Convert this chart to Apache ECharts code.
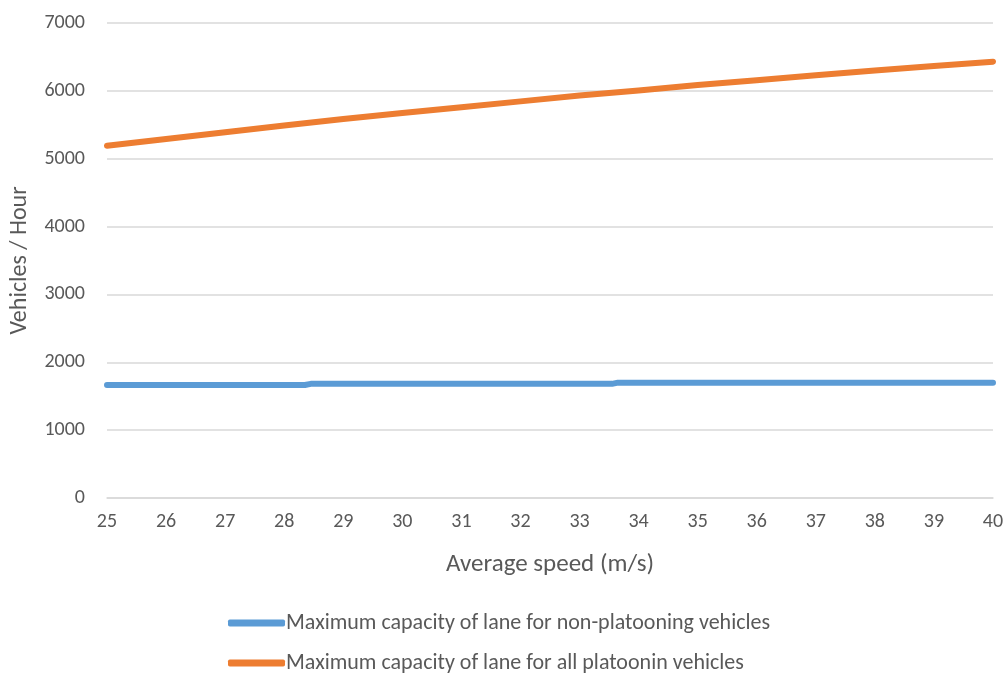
<!DOCTYPE html>
<html>
<head>
<meta charset="utf-8">
<script src="https://cdn.jsdelivr.net/npm/echarts@6/dist/echarts.min.js"></script>
<style>
html,body{margin:0;padding:0;background:#fff;}
#chart{width:1008px;height:673px;}
</style>
</head>
<body>
<div id="chart"></div>
<script>
// Speeds (m/s) for the platooning series
const speeds = [25, 26, 27, 28, 29, 30, 31, 32, 33, 34, 35, 36, 37, 38, 39, 40];
// Maximum capacity of lane for all platooning vehicles (veh/h)
const platoonValues = [5190, 5290, 5390, 5490, 5585, 5675, 5760, 5845, 5930, 6005, 6085, 6155, 6230, 6300, 6365, 6430];
// Non-platooning series: step breakpoints (speed, value)
const nonPlatoonSpeeds = [25, 28.35, 28.45, 33.55, 33.65, 40];
const nonPlatoonValues = [1665, 1665, 1682, 1682, 1700, 1700];
const xTicks = {min: 25, max: 40, interval: 1};
const yTicks = {min: 0, max: 7000, interval: 1000};
const seriesNames = ['Maximum capacity of lane for non-platooning vehicles', 'Maximum capacity of lane for all platoonin vehicles'];
const xTitle = 'Average speed (m/s)';
const yTitle = 'Vehicles / Hour';

const FONT = 'Carlito, Lato, sans-serif';
const TXT = '#595959';
const chart = echarts.init(document.getElementById('chart'), null, {renderer: 'canvas'});
chart.setOption({
  backgroundColor: '#fff',
  animation: false,
  grid: {left: 107, right: 15, top: 23, bottom: 175, containLabel: false, outerBoundsMode: 'none'},
  xAxis: {
    type: 'value', min: xTicks.min, max: xTicks.max, interval: xTicks.interval,
    name: xTitle, nameLocation: 'middle', nameGap: 54,
    nameTextStyle: {fontFamily: FONT, fontSize: 25, color: TXT},
    axisLine: {show: true, lineStyle: {color: '#D9D9D9', width: 1.5}},
    axisTick: {show: false},
    splitLine: {show: false},
    axisLabel: {fontFamily: FONT, fontSize: 20, color: TXT, margin: 14}
  },
  yAxis: {
    type: 'value', min: yTicks.min, max: yTicks.max, interval: yTicks.interval,
    name: yTitle, nameLocation: 'middle', nameGap: 75, nameRotate: 90,
    nameTextStyle: {fontFamily: FONT, fontSize: 24, color: TXT},
    axisLine: {show: false}, axisTick: {show: false},
    splitLine: {lineStyle: {color: '#D9D9D9', width: 1.5}},
    axisLabel: {fontFamily: FONT, fontSize: 20, color: TXT, margin: 22, formatter: v => String(v)}
  },
  legend: {
    orient: 'vertical', left: 228, top: 612, height: 100, padding: 0,
    itemWidth: 57, itemHeight: 7, itemGap: 18,
    icon: 'roundRect',
    textStyle: {fontFamily: FONT, fontSize: 22, lineHeight: 22, color: TXT, padding: [0, 0, 0, -4]},
    data: seriesNames
  },
  series: [
    {
      name: seriesNames[0], type: 'line', showSymbol: false, symbol: 'none',
      data: nonPlatoonSpeeds.map((s, i) => [s, nonPlatoonValues[i]]),
      lineStyle: {color: '#5B9BD5', width: 6, cap: 'round', join: 'round'},
      itemStyle: {color: '#5B9BD5'}
    },
    {
      name: seriesNames[1], type: 'line', showSymbol: false, symbol: 'none',
      data: speeds.map((s, i) => [s, platoonValues[i]]),
      lineStyle: {color: '#ED7D31', width: 6, cap: 'round', join: 'round'},
      itemStyle: {color: '#ED7D31'}
    }
  ]
});
</script>
</body>
</html>
